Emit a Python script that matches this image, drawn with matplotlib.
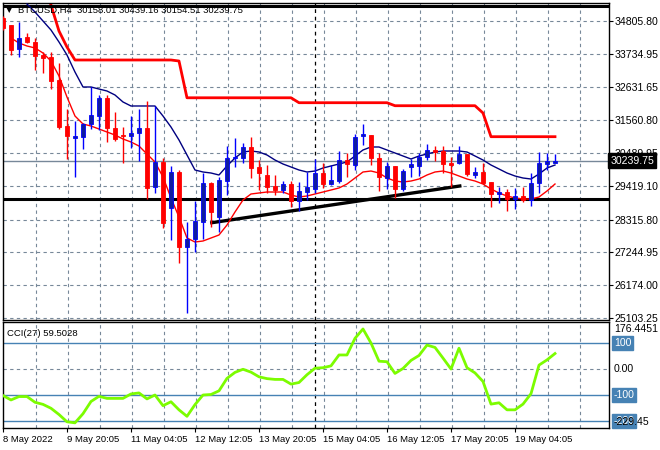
import matplotlib
matplotlib.use("Agg")
import matplotlib.pyplot as plt

plt.rcParams["font.family"] = ["Liberation Sans", "DejaVu Sans"]

# H4 candles, 8 May 12:05 -> 19 May 16:05
opens = [34894, 34665, 33872, 34264, 34101, 33686, 33611, 32870, 31369, 30987,
         31020, 31424, 31695, 32293, 31304, 31075, 31043, 31131, 31314, 29388,
         30194, 28683, 29878, 27410, 27671, 28246, 29499, 28409, 29584, 30325,
         30334, 30694, 30021, 29770, 29411, 29280, 29476, 28931, 29225, 29313,
         29845, 29476, 29584, 30259, 30096, 31043, 31075, 30315, 29682, 30064,
         29313, 30041, 30064, 30348, 30586, 30563, 30152, 30171, 30455, 29770,
         29858, 29551, 29140, 29215, 28977, 29085, 28954, 29499, 30129, 30158.01]
highs = [34959, 34665, 34753, 34394, 34231, 33794, 33774, 33415, 31924, 31532,
         31477, 32652, 32381, 32381, 31836, 31346, 31695, 31924, 32185, 32032,
         30334, 30073, 29933, 28226, 28921, 29825, 29551, 29714, 30726, 30968,
         30824, 31020, 30259, 30096, 29770, 29584, 29574, 29551, 29858, 30292,
         30152, 30096, 30563, 30478, 31098, 31434, 31075, 30478, 30204, 30064,
         29956, 30292, 30478, 30782, 30726, 30726, 30367, 30716, 30455, 30041,
         30152, 29551, 29388, 29303, 29336, 29388, 29825, 30511, 30498, 30439.16]
lows = [34502, 33686, 33631, 34068, 33197, 33108, 32576, 31261, 30292, 29714,
        30609, 31261, 31238, 30857, 30889, 30152, 30641, 30227, 28987, 29173,
        28050, 27649, 26908, 25276, 27267, 27681, 28083, 27919, 29117, 30041,
        30171, 29662, 29280, 29173, 29117, 29173, 28716, 28605, 28954, 29173,
        29336, 29444, 29519, 29714, 29933, 30749, 30096, 29248, 29313, 29010,
        29248, 29714, 29737, 30259, 30227, 29845, 29388, 30119, 29737, 29662,
        29499, 28716, 28846, 28605, 28660, 28889, 28758, 29173, 29933, 30154.51]
closes = [34567, 33849, 34231, 34120, 33663, 33598, 32847, 31327, 31052, 31043,
          31424, 31718, 32293, 31294, 30935, 31052, 31131, 31314, 29355, 30194,
          28194, 29868, 27410, 27671, 28269, 29499, 28572, 29607, 30334, 30367,
          30694, 30008, 29825, 29388, 29280, 29466, 28931, 29248, 29369, 29845,
          29476, 29607, 30259, 30119, 31020, 31098, 30315, 29695, 30064, 29313,
          29900, 30119, 30367, 30586, 30511, 30129, 30086, 30455, 29793, 29858,
          29519, 29140, 29215, 28977, 29085, 28954, 29499, 30152, 30227, 30239.75]

# slow MA (navy), starts at bar 3
navy_start = 3
navy_ma = [35351, 35089, 34796, 34502, 34110, 33686, 33131, 32642, 32642, 32576,
           32511, 32381, 32153, 32022, 32022, 32022, 32022, 31695, 31336, 30912,
           30423, 29933, 29868, 29835, 29770, 30064, 30325, 30521, 30553, 30521,
           30423, 30259, 30129, 30031, 29933, 29868, 29900, 29998, 30064, 30129,
           30194, 30390, 30586, 30684, 30684, 30586, 30488, 30390, 30292, 30390,
           30455, 30521, 30553, 30553, 30553, 30521, 30390, 30259, 30096, 29966,
           29835, 29737, 29672, 29639, 29803, 29998, 30096]
# fast MA (red), starts at bar 1
red_start = 1
red_ma = [34241, 34078, 33980, 33916, 33751, 33490, 33001, 32315, 31695,
          31434, 31369, 31271, 31173, 31075, 30945, 30847, 30716, 30455, 30194,
          29705, 29020, 28399, 27714, 27583, 27616, 27714, 27812, 28138, 28562,
          28954, 29150, 29183, 29215, 29215, 29215, 29117, 29052, 29085, 29150,
          29215, 29280, 29346, 29476, 29672, 29868, 29900, 29835, 29672, 29574,
          29541, 29574, 29639, 29770, 29868, 29900, 29835, 29737, 29639, 29574,
          29476, 29313, 29183, 29085, 29020, 28987, 28987, 29052, 29248, 29476]
# stepped upper band (thick red), starts at bar 6
band_start = 6
band = [35318, 34469, 33947, 33523, 33523, 33523, 33523, 33523, 33523, 33523,
        33523, 33523, 33523, 33523, 33523, 33523, 33490, 32290, 32290, 32290,
        32290, 32290, 32290, 32290, 32290, 32290, 32290, 32290, 32290, 32290,
        32290, 32129, 32129, 32129, 32129, 32129, 32129, 32129, 32129, 32129,
        32129, 32129, 32129, 32031, 32031, 32031, 32031, 32031, 32031, 32031,
        32031, 32031, 32031, 32031, 31793, 31020, 31020, 31020, 31020, 31020,
        31020, 31020, 31020, 31020]

cci = [-102, -119, -106, -106, -128, -136, -151, -175, -203, -207,
       -172, -125, -105, -113, -113, -113, -96, -92, -115, -100,
       -141, -126, -157, -182, -137, -100, -98, -84, -36, -13,
       -1, -12, -30, -37, -40, -40, -58, -52, -22, 3,
       5, 12, 54, 54, 118, 154, 100, 30, 28, -17,
       2, 33, 52, 92, 83, 42, 0, 80, 5, -15,
       -48, -135, -130, -157, -157, -135, -95, 15, 35, 59.5028]

trend_bars = [26.1, 57.1]
trend_prices = [28213, 29411]
support = 28987
top_line = 35300
week_sep = 39

price_ticks = [34805.80, 33734.95, 32631.65, 31560.80, 30489.95,
               29419.10, 28315.80, 27244.95, 26174.00, 25103.25]
date_labels = ["8 May 2022", "9 May 20:05", "11 May 04:05", "12 May 12:05",
               "13 May 20:05", "15 May 04:05", "16 May 12:05", "17 May 20:05",
               "19 May 04:05"]

W, H = 660, 450
GRID = "#778899"
FS = 7.6
FS_SMALL = 6.8


def box(x0, y0, x1, y1):
    return [x0 / W, 1 - y1 / H, (x1 - x0) / W, (y1 - y0) / H]


fig = plt.figure(figsize=(W / 100, H / 100), dpi=100)
ax = fig.add_axes(box(2.5, 3, 609, 320))
ax2 = fig.add_axes(box(2.5, 322, 609, 428), sharex=ax)

ax.set_xlim(-0.06, 75.75)
ax.set_ylim(25038, 35383)
ax2.set_ylim(-226.9, 180.8)

# grid
for a in (ax, ax2):
    for b in range(4, 76, 4):
        a.axvline(b + 0.08, color=GRID, lw=0.8, ls=(0, (3, 3)), zorder=0)
    a.axvline(week_sep, color="black", lw=0.9, ls=(0, (3, 3)), zorder=1)
for p in price_ticks:
    ax.axhline(p, color=GRID, lw=0.8, ls=(0, (3, 3)), zorder=0)

# lines
ax.axhline(top_line, color="black", lw=2.2, zorder=3)
ax.axhline(support, color="black", lw=2.2, zorder=3)
ax.axhline(closes[-1], color=GRID, lw=1, zorder=1)
ax.plot(trend_bars, trend_prices, color="black", lw=2.4, zorder=3)
ax.plot(range(band_start, band_start + len(band)), band, color="#ff0000", lw=2, zorder=2)
ax.plot(range(navy_start, navy_start + len(navy_ma)), navy_ma, color="#000080", lw=1, zorder=4)
ax.plot(range(red_start, red_start + len(red_ma)), red_ma, color="#ff0000", lw=1, zorder=4)

# candles
for i in range(len(opens)):
    o, h, l, c = opens[i], highs[i], lows[i], closes[i]
    if c >= o:
        wick, body = "#0000ff", "#0f1ca0"
    else:
        wick, body = "#ff0000", "#ff0000"
    ax.vlines(i, l, h, color=wick, lw=1, zorder=5)
    ax.bar(i, max(abs(c - o), 33), bottom=min(o, c), width=0.62,
           color=body, edgecolor=wick, lw=0.6, zorder=6)

# price axis
ax.yaxis.tick_right()
ax.set_yticks(price_ticks)
ax.set_yticklabels(["%.2f" % p for p in price_ticks])
ax.tick_params(axis="y", direction="out", length=3, pad=1.0, labelsize=FS)
ax.tick_params(axis="x", bottom=False, labelbottom=False)
ax.text(1.002, closes[-1], "%.2f" % closes[-1], transform=ax.get_yaxis_transform(),
        color="white", fontsize=FS, va="center", ha="left", zorder=10,
        bbox=dict(boxstyle="square,pad=0.2", fc="black", ec="black"), clip_on=False)

# CCI panel
ax2.axhline(0, color=GRID, lw=0.8, ls=(0, (3, 3)), zorder=0)
for lvl in (100, -100, -200):
    ax2.axhline(lvl, color="#4682b4", lw=1, zorder=1)
ax2.plot(range(len(cci)), cci, color="#7cfc00", lw=2, zorder=3)
ax2.set_yticks([])
yt = ax2.get_yaxis_transform()
blue_box = dict(boxstyle="square,pad=0.15", fc="#4682b4", ec="#4682b4")
ax2.text(1.008, 0.985, "176.4451", transform=ax2.transAxes, fontsize=FS, va="top")
ax2.text(1.008, 100, "100", transform=yt, fontsize=FS, va="center", color="white", bbox=blue_box)
ax2.text(1.008, 0, "0.00", transform=yt, fontsize=FS, va="center")
ax2.text(1.008, -100, "-100", transform=yt, fontsize=FS, va="center", color="white", bbox=blue_box)
ax2.text(1.008, -200, "-200", transform=yt, fontsize=FS, va="center", color="white", bbox=blue_box)
ax2.text(1.008, 0.01, "-229.45", transform=ax2.transAxes, fontsize=FS, va="bottom")
ax2.text(0.008, 0.93, "CCI(27) 59.5028", transform=ax2.transAxes, fontsize=FS_SMALL, va="top")

ax2.set_xticks(range(0, 72, 8))
ax2.set_xticklabels(date_labels, ha="left")
ax2.tick_params(axis="x", direction="out", length=3, pad=2, labelsize=FS_SMALL)

for a in (ax, ax2):
    for s in a.spines.values():
        s.set_color("black")
        s.set_linewidth(1)

# header
fig.text(6 / W, 1 - 10 / H, "\u25bc", fontsize=6, va="center", family=["DejaVu Sans"])
fig.text(18 / W, 1 - 10 / H, "BTCUSD,H4  30158.01 30439.16 30154.51 30239.75",
         fontsize=FS_SMALL, va="center")

fig.savefig("out.png", dpi=100, facecolor="white")
